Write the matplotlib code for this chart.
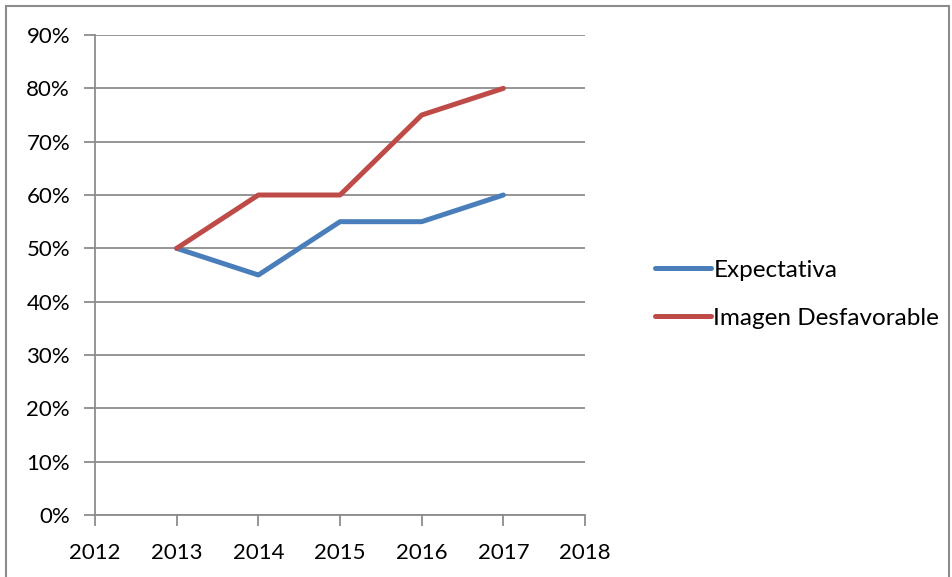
import matplotlib
matplotlib.use("Agg")
import matplotlib.pyplot as plt
from matplotlib.patches import Rectangle
from matplotlib.ticker import MultipleLocator, FuncFormatter

years = [2013, 2014, 2015, 2016, 2017]
expectativa = [0.50, 0.45, 0.55, 0.55, 0.60]
imagen_desfavorable = [0.50, 0.60, 0.60, 0.75, 0.80]
series_names = ["Expectativa", "Imagen Desfavorable"]
series_colors = ["#4a7ebb", "#be4b48"]

plt.rcParams["font.family"] = ["Lato", "DejaVu Sans"]
grid_gray = "#8c8c8c"

fig = plt.figure(figsize=(9.53, 5.77), dpi=100)
fig.patches.append(Rectangle((0.006, -0.01), 0.99, 1.0, transform=fig.transFigure,
                             fill=False, edgecolor=grid_gray, linewidth=1.5))

ax = fig.add_axes([0.0997, 0.1075, 0.5142, 0.8318])
for vals, name, col in zip([expectativa, imagen_desfavorable], series_names, series_colors):
    ax.plot(years, vals, color=col, linewidth=3.6, label=name, solid_capstyle="round",
            solid_joinstyle="round")

ax.set_xlim(2012, 2018)
ax.set_ylim(0, 0.9)
ax.xaxis.set_major_locator(MultipleLocator(1))
ax.yaxis.set_major_locator(MultipleLocator(0.1))
ax.yaxis.set_major_formatter(FuncFormatter(lambda v, p: f"{round(v * 100)}%"))
ax.grid(axis="y", color=grid_gray, linewidth=1.3)
ax.set_axisbelow(True)
for s in ["top", "right"]:
    ax.spines[s].set_visible(False)
for s in ["left", "bottom"]:
    ax.spines[s].set_color(grid_gray)
    ax.spines[s].set_linewidth(1.3)
ax.tick_params(axis="both", colors=grid_gray, width=1.3, length=8, labelcolor="black",
               labelsize=16)
ax.tick_params(axis="x", pad=12)
ax.tick_params(axis="y", pad=10)

ax.legend(loc="center left", bbox_to_anchor=(1.098, 0.46), frameon=False, fontsize=17.5,
          handlelength=2.3, handletextpad=0.1, labelspacing=1.1)

fig.savefig("out.png", dpi=100)
